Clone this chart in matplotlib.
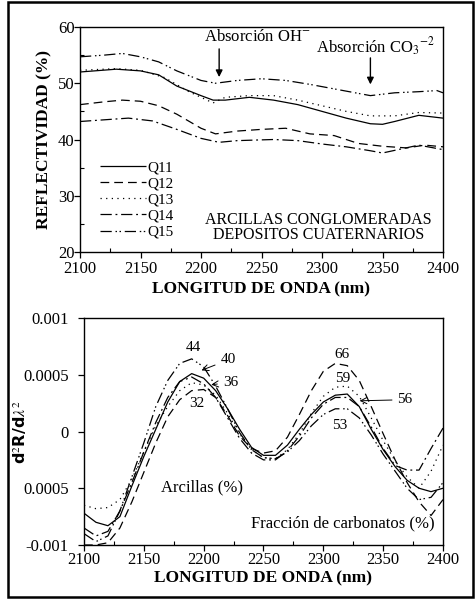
import matplotlib
matplotlib.use("Agg")
import matplotlib.pyplot as plt
from matplotlib.patches import Rectangle
from matplotlib.ticker import MultipleLocator

plt.rcParams['font.family'] = ['Liberation Serif', 'DejaVu Serif']
plt.rcParams['mathtext.fontset'] = 'stix'

# ---- reflectance spectra (top panel) ----
wl_q11 = [2100, 2130, 2150, 2165, 2180, 2200, 2210, 2220, 2240, 2260, 2280, 2300, 2320, 2340, 2350, 2360, 2380, 2400]
q11 = [52.0, 52.5, 52.2, 51.5, 49.5, 47.8, 47.0, 47.0, 47.5, 47.0, 46.2, 45.0, 43.8, 42.8, 42.7, 43.2, 44.3, 43.8]

wl_q12 = [2100, 2120, 2135, 2150, 2165, 2180, 2200, 2212, 2230, 2250, 2270, 2290, 2310, 2330, 2350, 2370, 2385, 2400]
q12 = [46.2, 46.7, 47.0, 46.8, 46.0, 44.5, 42.0, 41.0, 41.5, 41.8, 42.0, 41.0, 40.7, 39.3, 38.8, 38.5, 39.0, 38.7]

wl_q13 = [2100, 2130, 2150, 2170, 2190, 2210, 2220, 2240, 2260, 2280, 2300, 2320, 2340, 2360, 2380, 2400]
q13 = [52.3, 52.6, 52.3, 51.0, 48.5, 46.5, 47.5, 47.8, 47.8, 47.0, 46.0, 45.0, 44.2, 44.2, 44.8, 44.7]

wl_q14 = [2100, 2120, 2140, 2160, 2180, 2200, 2215, 2230, 2260, 2280, 2300, 2320, 2340, 2350, 2365, 2380, 2400]
q14 = [43.2, 43.5, 43.8, 43.3, 41.8, 40.2, 39.5, 39.8, 40.0, 39.8, 39.2, 38.7, 38.0, 37.6, 38.3, 39.0, 38.2]

wl_q15 = [2100, 2120, 2135, 2150, 2165, 2180, 2200, 2212, 2230, 2250, 2270, 2290, 2310, 2330, 2340, 2360, 2380, 2395, 2400]
q15 = [54.7, 55.0, 55.3, 54.7, 53.8, 52.2, 50.5, 50.0, 50.5, 50.8, 50.5, 49.8, 49.0, 48.2, 47.8, 48.3, 48.5, 48.7, 48.3]

# ---- second derivative (bottom panel), every 10 nm ----
wl_d2 = list(range(2100, 2401, 10))
d2_solid = [-0.00072, -0.00080, -0.00083, -0.00075, -0.00048, -0.00022, 0.00002, 0.00026, 0.00044, 0.00051,
            0.00047, 0.00036, 0.00020, 0.00002, -0.00014, -0.00021, -0.00021, -0.00012, 0.00002, 0.00015,
            0.00026, 0.00032, 0.00033, 0.00022, 0.00002, -0.00016, -0.00031, -0.00043, -0.00050, -0.00053, -0.00050]
d2_dashed = [-0.00100, -0.00100, -0.00098, -0.00085, -0.00062, -0.00036, -0.00010, 0.00013, 0.00028, 0.00036,
             0.00037, 0.00030, 0.00014, -0.00004, -0.00015, -0.00019, -0.00017, -0.00005, 0.00015, 0.00036,
             0.00053, 0.00060, 0.00058, 0.00045, 0.00022, -0.00002, -0.00025, -0.00045, -0.00062, -0.00074, -0.00060]
d2_dotted = [-0.00065, -0.00068, -0.00067, -0.00060, -0.00042, -0.00018, 0.00005, 0.00022, 0.00036, 0.00043,
             0.00041, 0.00032, 0.00016, -0.00002, -0.00016, -0.00023, -0.00024, -0.00016, -0.00002, 0.00016,
             0.00031, 0.00039, 0.00040, 0.00031, 0.00012, -0.00008, -0.00026, -0.00040, -0.00050, -0.00035, -0.00012]
d2_dashdot = [-0.00085, -0.00092, -0.00088, -0.00070, -0.00045, -0.00018, 0.00008, 0.00030, 0.00044, 0.00048,
              0.00042, 0.00030, 0.00012, -0.00006, -0.00019, -0.00025, -0.00025, -0.00017, -0.00004, 0.00012,
              0.00024, 0.00030, 0.00030, 0.00022, 0.00004, -0.00015, -0.00030, -0.00034, -0.00034, -0.00015, 0.00003]
d2_dashdotdot = [-0.00090, -0.00097, -0.00092, -0.00070, -0.00040, -0.00010, 0.00022, 0.00045, 0.00060, 0.00064,
                 0.00057, 0.00040, 0.00020, -0.00001, -0.00016, -0.00023, -0.00024, -0.00018, -0.00008, 0.00005,
                 0.00015, 0.00020, 0.00020, 0.00012, -0.00003, -0.00020, -0.00035, -0.00050, -0.00060, -0.00058, -0.00045]

labels_q = ["Q11", "Q12", "Q13", "Q14", "Q15"]
y_ticks_top = [20, 30, 40, 50, 60]
y_ticks_bot = [0.001, 0.0005, 0, -0.0005, -0.001]
y_ticklabels_bot = ["0.001", "0.0005", "0", "0.0005", "-0.001"]

# line styles
sty = {
    'solid': (0, ()),
    'dashed': (0, (7, 4)),
    'dotted': (0, (1, 3.5)),
    'dashdot': (0, (9, 3, 1.5, 3)),
    'dashdotdot': (0, (9, 3, 1.2, 2, 1.2, 3)),
}
lw = 0.9
fs = 12      # tick labels
lfs = 12.5   # bold axis labels
tfs = 11.5   # annotation text


def style_axis(ax, xpad):
    ax.set_xlim(2100, 2400)
    ax.xaxis.set_major_locator(MultipleLocator(50))
    ax.xaxis.set_minor_locator(MultipleLocator(25))
    ax.tick_params(which='major', direction='out', length=4, width=0.9, labelsize=fs, pad=0)
    ax.tick_params(axis='x', which='major', pad=xpad)
    ax.tick_params(which='minor', direction='in', length=3, width=0.8)
    for s in ax.spines.values():
        s.set_linewidth(1.0)


fig = plt.figure(figsize=(4.77, 5.99), dpi=100)

# ---- top panel ----
ax1 = fig.add_axes([80 / 477, 1 - 252 / 599, 363 / 477, 225 / 599])
ax1.plot(wl_q11, q11, color='black', lw=lw, linestyle=sty['solid'], label=labels_q[0])
ax1.plot(wl_q12, q12, color='black', lw=lw, linestyle=sty['dashed'], label=labels_q[1])
ax1.plot(wl_q13, q13, color='black', lw=lw, linestyle=sty['dotted'], label=labels_q[2])
ax1.plot(wl_q14, q14, color='black', lw=lw, linestyle=sty['dashdot'], label=labels_q[3])
ax1.plot(wl_q15, q15, color='black', lw=lw, linestyle=sty['dashdotdot'], label=labels_q[4])
style_axis(ax1, 2.5)
ax1.set_ylim(20, 60)
ax1.set_yticks(y_ticks_top)
ax1.yaxis.set_minor_locator(MultipleLocator(5))
ax1.set_xlabel("LONGITUD DE ONDA (nm)", fontsize=lfs, fontweight='bold', labelpad=3)
ax1.set_ylabel("REFLECTIVIDAD (%)", fontsize=lfs, fontweight='bold', labelpad=4)
ax1.legend(loc='upper left', bbox_to_anchor=(0.035, 0.44), frameon=False, fontsize=11,
           handlelength=3.0, handletextpad=0.1, labelspacing=0.16, borderpad=0.0)
ax1.text(2297, 24.4, "ARCILLAS CONGLOMERADAS\nDEPOSITOS CUATERNARIOS", ha='center', va='center',
         fontsize=tfs, linespacing=0.95)
ax1.text(2247, 58.2, "Absorción OH$^{-}$", ha='center', va='center', fontsize=12)
ax1.annotate("", xy=(2215, 50.6), xytext=(2215, 56.6),
             arrowprops=dict(arrowstyle='-|>', color='black', lw=1.0, mutation_scale=10))
ax1.text(2344, 56.4, "Absorción CO$_3$$^{-2}$", ha='center', va='center', fontsize=12)
ax1.annotate("", xy=(2340, 49.3), xytext=(2340, 55.0),
             arrowprops=dict(arrowstyle='-|>', color='black', lw=1.0, mutation_scale=10))

# ---- bottom panel ----
ax2 = fig.add_axes([84 / 477, 1 - 545 / 599, 359 / 477, 227 / 599])
ax2.plot(wl_d2, d2_solid, color='black', lw=lw, linestyle=sty['solid'])
ax2.plot(wl_d2, d2_dashed, color='black', lw=lw, linestyle=sty['dashed'])
ax2.plot(wl_d2, d2_dotted, color='black', lw=lw, linestyle=sty['dotted'])
ax2.plot(wl_d2, d2_dashdot, color='black', lw=lw, linestyle=sty['dashdot'])
ax2.plot(wl_d2, d2_dashdotdot, color='black', lw=lw, linestyle=sty['dashdotdot'])
style_axis(ax2, 1)
ax2.set_ylim(-0.001, 0.001)
ax2.set_yticks(y_ticks_bot)
ax2.set_yticklabels(y_ticklabels_bot)
ax2.tick_params(axis='y', which='major', pad=7)
ax2.set_xlabel("LONGITUD DE ONDA (nm)", fontsize=lfs, fontweight='bold', labelpad=2)
ax2.set_ylabel(r"d$^2$R/d$\lambda^2$", fontsize=11.5, fontweight='bold', family=['DejaVu Sans'],
               labelpad=-4)

nfs = 11
ax2.text(2191, 0.00074, "44", ha='center', va='center', fontsize=nfs)
ax2.annotate("40", xy=(2196, 0.00053), xytext=(2214, 0.00063), fontsize=nfs, ha='left', va='center',
             arrowprops=dict(arrowstyle='->', color='black', lw=0.7))
ax2.annotate("36", xy=(2204, 0.00041), xytext=(2216, 0.00043), fontsize=nfs, ha='left', va='center',
             arrowprops=dict(arrowstyle='->', color='black', lw=0.7))
ax2.text(2194, 0.00025, "32", ha='center', va='center', fontsize=nfs)
ax2.text(2316, 0.00068, "66", ha='center', va='center', fontsize=nfs)
ax2.text(2316, 0.00047, "59", ha='center', va='center', fontsize=nfs)
ax2.annotate("56", xy=(2328, 0.00027), xytext=(2362, 0.00028), fontsize=nfs, ha='left', va='center',
             arrowprops=dict(arrowstyle='->', color='black', lw=0.7))
ax2.text(2314, 0.00005, "53", ha='center', va='center', fontsize=nfs)
ax2.text(2199, -0.00049, "Arcillas (%)", ha='center', va='center', fontsize=12)
ax2.text(2316, -0.00081, "Fracción de carbonatos (%)", ha='center', va='center', fontsize=12)

# outer frame
fig.patches.append(Rectangle((8 / 477, 2 / 599), 465 / 477, 595 / 599, transform=fig.transFigure,
                             fill=False, edgecolor='black', lw=1.8))

fig.savefig("out.png", dpi=100)
